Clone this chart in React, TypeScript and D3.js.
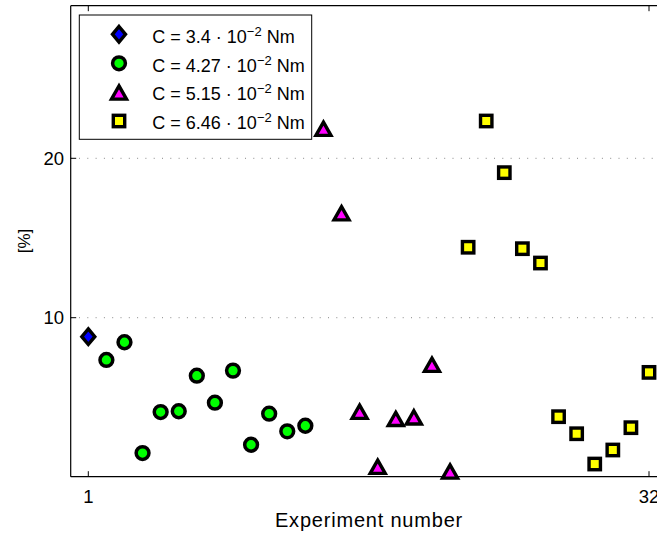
import React from "react";
import * as d3 from "d3";

const seriesLabels = ["3.4", "4.27", "5.15", "6.46"];
const diamondX = [1];
const diamondY = [8.81];
const circleX = [2, 3, 4, 5, 6, 7, 8, 9, 10, 11, 12, 13];
const circleY = [7.35, 8.46, 1.51, 4.08, 4.13, 6.36, 4.67, 6.68, 2.03, 3.98, 2.87, 3.22];
const triX = [14, 15, 16, 17, 18, 19, 20, 21];
const triY = [21.9, 16.6, 4.15, 0.7, 3.7, 3.8, 7.1, 0.4];
const sqX = [22, 23, 24, 25, 26, 27, 28, 29, 30, 31, 32];
const sqY = [14.42, 22.34, 19.1, 14.33, 13.43, 3.79, 2.72, 0.82, 1.7, 3.1, 6.57];
const xTicks = [1, 32];
const yTicks = [10, 20];

const FONT = "'Liberation Sans', Arial, Helvetica, sans-serif";

function Marker({ kind, x, y }: { kind: string; x: number; y: number }) {
  const sw = 3.4;
  if (kind === "diamond") {
    const w = 6.5, h = 7.8;
    return (
      <path
        d={`M${x},${y - h}L${x + w},${y}L${x},${y + h}L${x - w},${y}Z`}
        fill="#0000ff" stroke="#000" strokeWidth={sw} strokeLinejoin="miter"
      />
    );
  }
  if (kind === "circle") {
    return <circle cx={x} cy={y} r={6.4} fill="#00ff00" stroke="#000" strokeWidth={3.5} />;
  }
  if (kind === "triangle") {
    const w = 7.5, h = 6.6;
    const yc = y + 0.8;
    return (
      <path
        d={`M${x},${yc - h}L${x + w},${yc + h}L${x - w},${yc + h}Z`}
        fill="#ff00ff" stroke="#000" strokeWidth={sw} strokeLinejoin="miter"
      />
    );
  }
  const s = 5.7;
  return (
    <rect x={x - s} y={y - s} width={2 * s} height={2 * s} fill="#ffff00" stroke="#000" strokeWidth={sw} />
  );
}

export default function App() {
  const W = 657, H = 536;
  const left = 70.7, top = 5.7, bottom = 476.7;
  const x = d3.scaleLinear().domain([1, 32]).range([88.3, 649]);
  const y = d3.scaleLinear().domain([0, 20]).range([477.1, 158.3]);
  const right = x(33);

  const series = [
    { kind: "diamond", xs: diamondX, ys: diamondY },
    { kind: "circle", xs: circleX, ys: circleY },
    { kind: "triangle", xs: triX, ys: triY },
    { kind: "square", xs: sqX, ys: sqY },
  ];

  const legendRows = [34.3, 63.3, 91.7, 121];

  return (
    <svg
      width={W}
      height={H}
      style={{ position: "absolute", left: 0, top: 0, background: "#fff" }}
      fontFamily={FONT}
    >
      <rect x={0} y={0} width={W} height={H} fill="#fff" />
      {/* grid */}
      {yTicks.map((t) => (
        <line key={"g" + t} x1={left} x2={right} y1={y(t)} y2={y(t)}
          stroke="#888" strokeWidth={1} strokeDasharray="1 7.3" />
      ))}
      {/* axes box */}
      <line x1={left} x2={right} y1={bottom} y2={bottom} stroke="#000" strokeWidth={1.2} />
      <line x1={left} x2={right} y1={top} y2={top} stroke="#000" strokeWidth={1.2} />
      <line x1={left} x2={left} y1={top} y2={bottom} stroke="#000" strokeWidth={1.2} />
      {/* ticks */}
      {xTicks.map((t) => (
        <g key={"xt" + t}>
          <line x1={x(t)} x2={x(t)} y1={bottom} y2={bottom - 5.5} stroke="#000" strokeWidth={1} />
          <line x1={x(t)} x2={x(t)} y1={top} y2={top + 5.5} stroke="#000" strokeWidth={1} />
          <text x={x(t)} y={502.7} textAnchor="middle" fontSize={18.5} fill="#000">{t}</text>
        </g>
      ))}
      {yTicks.map((t) => (
        <g key={"yt" + t}>
          <line x1={left} x2={left + 5.5} y1={y(t)} y2={y(t)} stroke="#000" strokeWidth={1} />
          <text x={64} y={y(t) + 6.7} textAnchor="end" fontSize={18.5} fill="#000">{t}</text>
        </g>
      ))}
      {/* labels */}
      <text x={369} y={527.3} textAnchor="middle" fontSize={20} letterSpacing={0.8} fill="#000">Experiment number</text>
      <text transform="translate(30,241) rotate(-90)" textAnchor="middle" fontSize={17} fill="#000">[%]</text>
      {/* data */}
      {series.map((s) =>
        s.xs.map((xv, i) => <Marker key={s.kind + i} kind={s.kind} x={x(xv)} y={y(s.ys[i])} />)
      )}
      {/* legend */}
      <rect x={79.3} y={15} width={232.4} height={124.3} fill="#fff" stroke="#000" strokeWidth={1} />
      {series.map((s, i) => (
        <g key={"lg" + i}>
          <Marker kind={s.kind} x={119} y={legendRows[i]} />
          <text x={152.3} y={legendRows[i] + 8.4} fontSize={18} fill="#000">
            {`C = ${seriesLabels[i]} \u00B7 10`}
            <tspan dy={-7} fontSize={13}>{"\u22122"}</tspan>
            <tspan dy={7}>{" Nm"}</tspan>
          </text>
        </g>
      ))}
    </svg>
  );
}
